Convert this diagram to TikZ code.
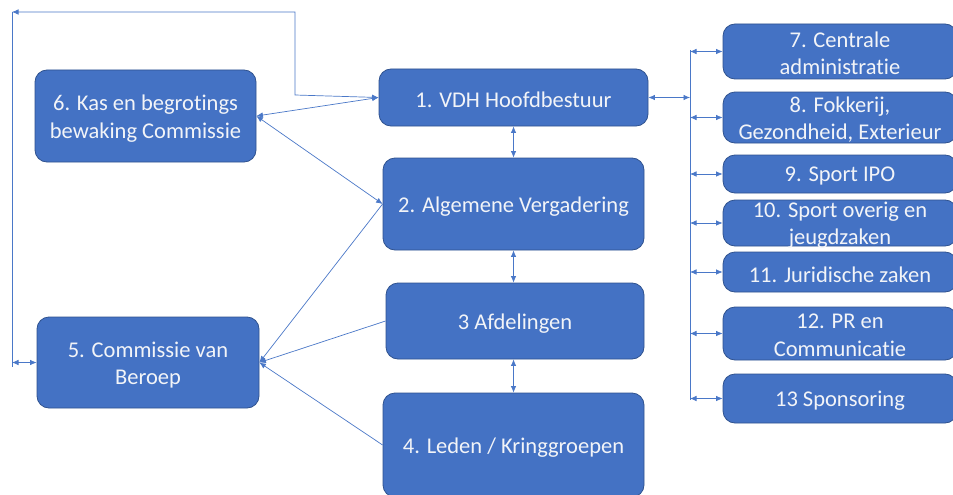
\documentclass[tikz,border=0pt]{standalone}
\usepackage{fontspec}
\setmainfont{Carlito}[Ligatures=NoCommon]
\usetikzlibrary{arrows.meta}
\definecolor{boxfill}{HTML}{4472C4}
\definecolor{boxline}{HTML}{2F528F}
\definecolor{conn}{HTML}{4A78C8}
\definecolor{boxtext}{HTML}{F2F4F8}
\tikzset{
  box/.style={draw=boxline, line width=0.8pt, fill=boxfill, rounded corners=12pt, inner sep=0pt},
  txt/.style={text=boxtext, align=center, inner sep=0pt, font=\fontsize{22.5}{27.5}\selectfont},
  conline/.style={draw=conn, line width=0.7pt},
  biarrow/.style={conline, {Latex[length=6.5pt,width=5.5pt]}-{Latex[length=6.5pt,width=5.5pt]}},
  backarrow/.style={conline, {Latex[length=6.5pt,width=5.5pt]}-}
}
\begin{document}
\begin{tikzpicture}[x=1pt,y=-1pt]
\clip (0,0) rectangle (953,495);
\fill[white] (0,0) rectangle (953,495);
% centre column
\node[box, minimum width=269pt, minimum height=57pt] (b1) at (513.5,97.5) {};
\node[box, minimum width=261pt, minimum height=92pt] (b2) at (513.5,204) {};
\node[box, minimum width=258pt, minimum height=76pt] (b3) at (515,321) {};
\node[box, minimum width=261pt, minimum height=104pt] (b4) at (513.5,445) {};
% left column
\node[box, minimum width=221pt, minimum height=92pt] (b6) at (145.5,116) {};
\node[box, minimum width=222pt, minimum height=91pt] (b5) at (148,362.5) {};
% right column
\node[box, minimum width=234pt, minimum height=55pt] (b7) at (840,51.5) {};
\node[box, minimum width=234pt, minimum height=51pt] (b8) at (840,117.5) {};
\node[box, minimum width=234pt, minimum height=38pt] (b9) at (840,174) {};
\node[box, minimum width=234pt, minimum height=46pt] (b10) at (840,223) {};
\node[box, minimum width=234pt, minimum height=40pt] (b11) at (840,272) {};
\node[box, minimum width=234pt, minimum height=53pt] (b12) at (840,333.5) {};
\node[box, minimum width=234pt, minimum height=49pt] (b13) at (840,398.5) {};
% texts
\node[txt] (t1) at ([yshift=-2.5pt]b1.center) {1. VDH Hoofdbestuur};
\node[txt] (t2) at ([yshift=-2.5pt]b2.center) {2. Algemene Vergadering};
\node[txt] (t3) at ([yshift=-2.5pt]b3.center) {3 Afdelingen};
\node[txt] (t4) at ([yshift=-2.5pt]b4.center) {4. Leden / Kringgroepen};
\node[txt] (t6) at ([yshift=-2.5pt]b6.center) {6. Kas en begrotings\\bewaking Commissie};
\node[txt] (t5) at ([yshift=-2.5pt]b5.center) {5. Commissie van\\Beroep};
\node[txt] (t7) at ([yshift=-2pt]b7.center) {7. Centrale\\administratie};
\node[txt] (t8) at ([yshift=-2pt]b8.center) {8. Fokkerij,\\Gezondheid, Exterieur};
\node[txt] (t9) at ([yshift=-2.5pt]b9.center) {9. Sport IPO};
\node[txt] (t10) at ([yshift=-2pt]b10.center) {10. Sport overig en\\jeugdzaken};
\node[txt] (t11) at ([yshift=-2.5pt]b11.center) {11. Juridische zaken};
\node[txt] (t12) at ([yshift=-2pt]b12.center) {12. PR en\\Communicatie};
\node[txt] (t13) at ([yshift=-2.5pt]b13.center) {13 Sponsoring};
% bus
\coordinate (bustop) at (690,50);
\coordinate (busbot) at (690,400);
\draw[conline] (bustop) -- (busbot);
\draw[biarrow] (b1.east) -- (b1.east -| bustop);
\foreach \n in {7,8,9,10,11,12,13}{
  \draw[biarrow] (b\n.west -| bustop) -- (b\n.west);
}
% vertical centre arrows
\draw[biarrow] (b1.south) -- (b2.north);
\draw[biarrow] (b2.south) -- (b3.north -| b2.south);
\draw[biarrow] (b3.south -| b2.south) -- (b4.north);
% left connections
\draw[biarrow] (b6.east) -- (b1.west);
\draw[biarrow] (b6.east) -- (b2.west);
\draw[backarrow] (b5.east) -- (b2.west);
\draw[backarrow] (b5.east) -- (b3.west);
\draw[backarrow] (b5.east) -- (b4.west);
% outer loop
\coordinate (tl) at (12,12);
\coordinate (tm) at (295,12);
\coordinate (tb) at (295,95);
\coordinate (bl) at (12,367);
\coordinate (bm) at (12,362.5);
\draw[biarrow] (tl) -- (tm) -- (tb) -- (b1.west);
\draw[conline] (tl) -- (bl);
\draw[biarrow] (bm) -- (b5.west);
\end{tikzpicture}
\end{document}
